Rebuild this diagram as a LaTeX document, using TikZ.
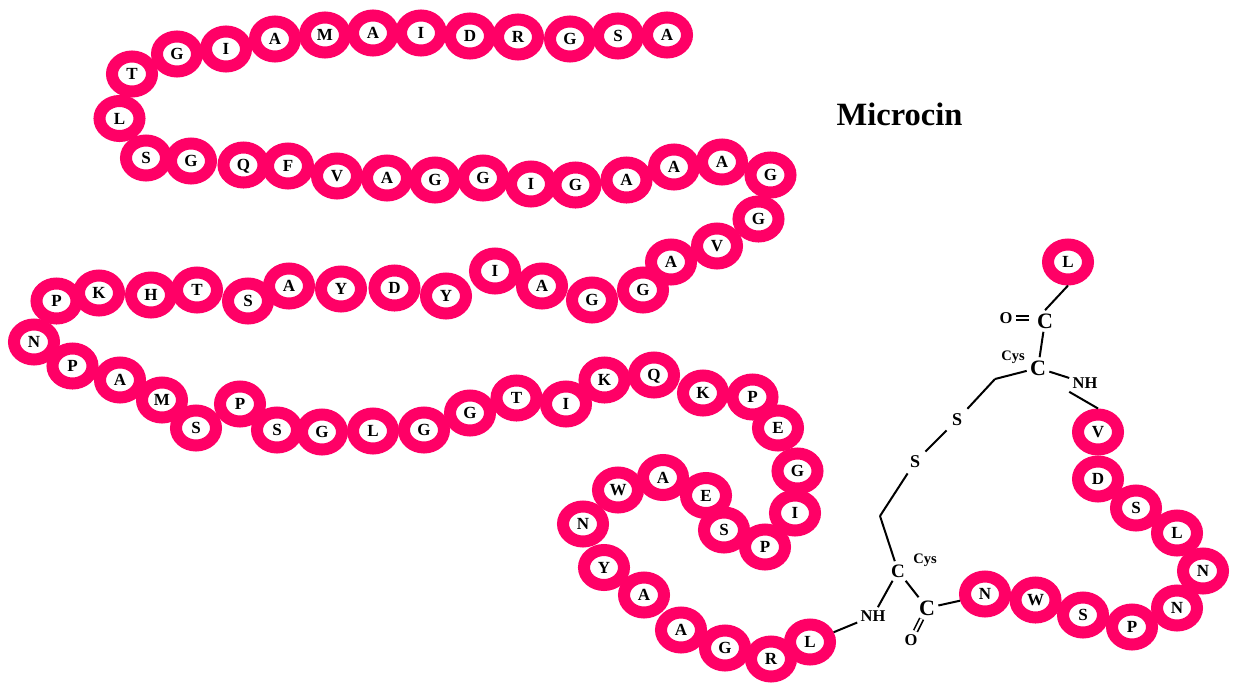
\documentclass[tikz,border=0pt]{standalone}
\usepackage{fontspec}
\setmainfont{Liberation Serif}
\usetikzlibrary{shapes.geometric}

\definecolor{beadpink}{RGB}{255,0,102}

\begin{document}
\begin{tikzpicture}[
            x=1pt, y=-1pt, thick,
            residue/.style={draw=beadpink, fill=white, ellipse, line width=12pt, inner sep=0pt, minimum width=40pt, minimum height=35pt, text height=11pt, text depth=0pt, font=\fontsize{17}{17}\selectfont\bfseries},
            atom/.style={inner sep=3pt, font=\fontsize{16.5}{16.5}\selectfont\bfseries},
            bigatom/.style={inner sep=3pt, font=\fontsize{22}{22}\selectfont\bfseries},
            tag/.style={inner sep=0pt, font=\fontsize{14.5}{14.5}\selectfont\bfseries},
            bond/.style={black, line width=2pt},
            dbond/.style={double, double distance=2.4pt, line width=1.6pt}
        ]
            \useasboundingbox (0,0) rectangle (1242,696);

            % Title
            \node[inner sep=0pt, font=\fontsize{32.5}{32.5}\selectfont\bfseries] (title) at (899.5,114.5) {Microcin};

            % First strand
            \node[residue] (a1) at (667,35) {A};
            \node[residue] (s2) at (618,36) {S};
            \node[residue] (g3) at (570,39) {G};
            \node[residue] (r4) at (518,37) {R};
            \node[residue] (d5) at (470,36) {D};
            \node[residue] (i6) at (421,33) {I};
            \node[residue] (a7) at (373,33) {A};
            \node[residue] (m8) at (325,35) {M};
            \node[residue] (a9) at (275,39) {A};
            \node[residue] (i10) at (226,49) {I};
            \node[residue] (g11) at (177,54) {G};
            \node[residue] (t12) at (132,74) {T};
            \node[residue] (l13) at (119.5,118.5) {L};

            % Second strand
            \node[residue] (s14) at (146,158) {S};
            \node[residue] (g15) at (191,161) {G};
            \node[residue] (q16) at (243.5,165) {Q};
            \node[residue] (f17) at (288,166) {F};
            \node[residue] (v18) at (337,176) {V};
            \node[residue] (a19) at (387,178) {A};
            \node[residue] (g20) at (435,180) {G};
            \node[residue] (g21) at (483,178) {G};
            \node[residue] (i22) at (531,184) {I};
            \node[residue] (g23) at (575.5,185) {G};
            \node[residue] (a24) at (626.5,180) {A};
            \node[residue] (a25) at (674,167) {A};
            \node[residue] (a26) at (722,162) {A};
            \node[residue] (g27) at (770.5,175) {G};
            \node[residue] (g28) at (758.5,219) {G};

            % Third strand
            \node[residue] (v29) at (717,246) {V};
            \node[residue] (a30) at (671,262) {A};
            \node[residue] (g31) at (643,290) {G};
            \node[residue] (g32) at (592,300) {G};
            \node[residue] (a33) at (542,286) {A};
            \node[residue] (i34) at (495,271) {I};
            \node[residue] (y35) at (446,296) {Y};
            \node[residue] (d36) at (394.5,288) {D};
            \node[residue] (y37) at (341,289) {Y};
            \node[residue] (a38) at (289,286) {A};
            \node[residue] (s39) at (248,301) {S};
            \node[residue] (t40) at (197,290) {T};
            \node[residue] (h41) at (151,295) {H};
            \node[residue] (k42) at (99,293) {K};
            \node[residue] (p43) at (56.5,301) {P};
            \node[residue] (n44) at (34,342) {N};

            % Fourth strand
            \node[residue] (p45) at (72.5,366) {P};
            \node[residue] (a46) at (120,380) {A};
            \node[residue] (m47) at (162,400) {M};
            \node[residue] (s48) at (196,428) {S};
            \node[residue] (p49) at (240,404) {P};
            \node[residue] (s50) at (277,430) {S};
            \node[residue] (g51) at (322,432) {G};
            \node[residue] (l52) at (373,431) {L};
            \node[residue] (g53) at (424,430) {G};
            \node[residue] (g54) at (470,413) {G};
            \node[residue] (t55) at (516.5,398) {T};
            \node[residue] (i56) at (566,404) {I};
            \node[residue] (k57) at (604.5,380) {K};
            \node[residue] (q58) at (654,375) {Q};
            \node[residue] (k59) at (703,393) {K};
            \node[residue] (p60) at (752.5,397) {P};
            \node[residue] (e61) at (778,428) {E};
            \node[residue] (g62) at (797.5,471) {G};
            \node[residue] (i63) at (795,513) {I};

            % Inner curl
            \node[residue] (p64) at (765,547) {P};
            \node[residue] (s65) at (724,530) {S};
            \node[residue] (e66) at (706,495.5) {E};
            \node[residue] (a67) at (663,477.5) {A};
            \node[residue] (w68) at (618,490) {W};
            \node[residue] (n69) at (583,524) {N};
            \node[residue] (y70) at (604,567.5) {Y};
            \node[residue] (a71) at (644,595) {A};
            \node[residue] (a72) at (681,630) {A};
            \node[residue] (g73) at (725,648) {G};
            \node[residue] (r74) at (771,659) {R};
            \node[residue] (l75) at (810,642) {L};

            % Ring
            \node[residue] (n76) at (985,594) {N};
            \node[residue] (w77) at (1035.5,600) {W};
            \node[residue] (s78) at (1083,615) {S};
            \node[residue] (p79) at (1132,627) {P};
            \node[residue] (n80) at (1177,608) {N};
            \node[residue] (n81) at (1203,571) {N};
            \node[residue] (l82) at (1177,533) {L};
            \node[residue] (s83) at (1136,508) {S};
            \node[residue] (d84) at (1098,479) {D};
            \node[residue] (v85) at (1098,432) {V};
            \node[residue] (l86) at (1068,262) {L};

            % Lower cysteine
            \node[atom] (nhlow) at (873,616) {NH};
            \node[atom, font=\fontsize{19}{19}\selectfont\bfseries] (clow) at (898,571) {C};
            \node[tag] (cyslow) at (925,560) {Cys};
            \node[bigatom] (colow) at (927,608) {C};
            \node[atom] (olow) at (911,640) {O};
            \coordinate (bendlow) at (880,516);
            \draw[bond] (l75) -- (nhlow);
            \draw[bond] (nhlow) -- (clow);
            \draw[bond] (clow) -- (colow);
            \draw[bond] (colow) -- (n76.195);
            \draw[dbond] (colow) -- (olow);
            \draw[bond] (clow) -- (bendlow);

            % Upper cysteine
            \node[atom] (nhup) at (1085,383) {NH};
            \node[bigatom] (cup) at (1038,368) {C};
            \node[tag] (cysup) at (1013,357) {Cys};
            \node[bigatom] (coup) at (1045,321) {C};
            \node[atom] (oup) at (1006,318) {O};
            \coordinate (bendup) at (995,379);
            \draw[bond] (nhup.south west) -- (v85.north);
            \draw[bond] (nhup) -- (cup);
            \draw[bond] (cup) -- (coup);
            \draw[bond] (coup.north) -- (l86.south);
            \draw[dbond, shorten >=5pt] (oup) -- (coup.west |- oup);
            \draw[bond] (cup) -- (bendup);

            % Disulfide
            \node[atom, inner sep=5pt, font=\fontsize{18}{18}\selectfont\bfseries] (sup) at (957,420) {S};
            \node[atom, inner sep=5pt, font=\fontsize{18}{18}\selectfont\bfseries] (slow) at (915,462) {S};
            \draw[bond] (bendup) -- (sup);
            \draw[bond] (sup) -- (slow);
            \draw[bond] (slow) -- (bendlow);
        \end{tikzpicture}
\end{document}
